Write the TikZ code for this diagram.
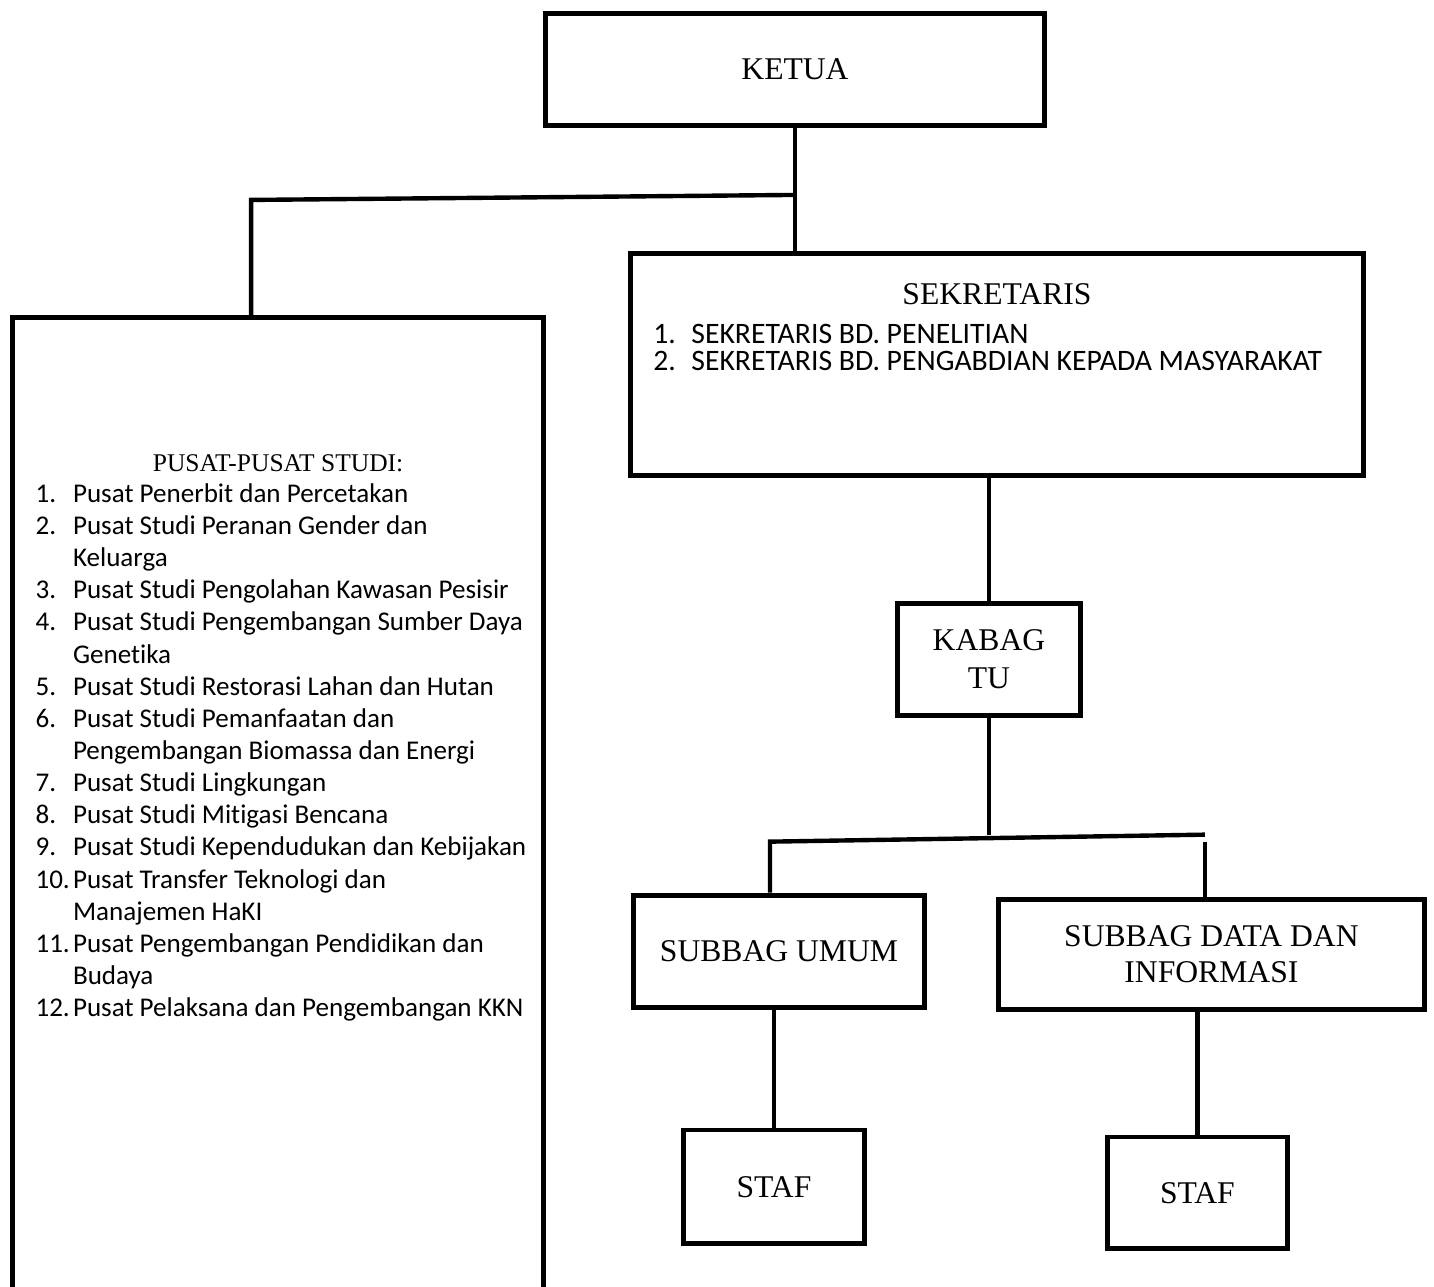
\documentclass[tikz,border=0pt]{standalone}
\usepackage{fontspec}
\setmainfont{Liberation Serif}
\newfontfamily\listfont[Ligatures={NoCommon}]{Carlito}
\usetikzlibrary{positioning,calc}
\tikzset{
    orgbox/.style={
        draw=black,
        fill=white,
        rectangle,
        line width=2.8pt,
        align=center,
        inner sep=0pt,
        font=\fontsize{18}{21.6}\selectfont
    },
    conn/.style={
        draw=black,
        line width=2.5pt
    },
    boxtitle/.style={
        inner sep=0pt,
        font=\fontsize{18}{21.6}\selectfont
    },
    listbody/.style={
        inner sep=0pt,
        anchor=north west
    }
}
\begin{document}
\begin{tikzpicture}[x=0.02cm, y=-0.02cm]
    \useasboundingbox (0,0) rectangle (1434,1287);
    \clip (0,0) rectangle (1434,1287);
    \fill[white] (0,0) rectangle (1434,1287);

    % Ketua at the top
    \node[orgbox, minimum width=9.98cm, minimum height=2.24cm] (ketua) at (795,69.5) {KETUA};

    % Pusat studi on the left, sekretaris on the right
    \node[orgbox, below=3.74cm of ketua, xshift=-10.34cm, minimum width=10.62cm, minimum height=20.2cm] (pusat) {};
    \node[orgbox, below=2.46cm of ketua, xshift=4.04cm, minimum width=14.66cm, minimum height=4.44cm] (sekretaris) {};

    \node[boxtitle, font=\fontsize{14.5}{17}\selectfont] (pusattitle) at ([yshift=-2.96cm]pusat.north) {PUSAT-PUSAT STUDI:};
    \node[listbody, font=\listfont\fontsize{15.4}{18.3}\selectfont] (pusatlist) at ([xshift=0.5cm, yshift=-3.29cm]pusat.north west) {%
        \begin{tabular}{@{}p{0.75cm}@{}l@{}}
        1. & Pusat Penerbit dan Percetakan\\
        2. & Pusat Studi Peranan Gender dan\\
           & Keluarga\\
        3. & Pusat Studi Pengolahan Kawasan Pesisir\\
        4. & Pusat Studi Pengembangan Sumber Daya\\
           & Genetika\\
        5. & Pusat Studi Restorasi Lahan dan Hutan\\
        6. & Pusat Studi Pemanfaatan dan\\
           & Pengembangan Biomassa dan Energi\\
        7. & Pusat Studi Lingkungan\\
        8. & Pusat Studi Mitigasi Bencana\\
        9. & Pusat Studi Kependudukan dan Kebijakan\\
        10. & Pusat Transfer Teknologi dan\\
            & Manajemen HaKI\\
        11. & Pusat Pengembangan Pendidikan dan\\
            & Budaya\\
        12. & Pusat Pelaksana dan Pengembangan KKN
        \end{tabular}};

    \node[boxtitle] (sektitle) at ([yshift=-0.86cm]sekretaris.north) {SEKRETARIS};
    \node[listbody, font=\listfont\fontsize{16.9}{15}\selectfont] (seklist) at ([xshift=0.5cm, yshift=-1.46cm]sekretaris.north west) {%
        \begin{tabular}{@{}p{0.76cm}@{}l@{}}
        1. & SEKRETARIS BD. PENELITIAN\\
        2. & SEKRETARIS BD. PENGABDIAN KEPADA MASYARAKAT
        \end{tabular}};

    % Tata usaha below the sekretaris
    \node[orgbox, below=2.46cm of sekretaris, xshift=-0.16cm, minimum width=3.66cm, minimum height=2.24cm] (kabag) {KABAG\\TU};
    \node[orgbox, below=3.5cm of kabag, xshift=-4.2cm, minimum width=5.82cm, minimum height=2.24cm] (subumum) {SUBBAG UMUM};
    \node[orgbox, below=3.58cm of kabag, xshift=4.45cm, minimum width=8.52cm, minimum height=2.2cm, font=\fontsize{18}{20.5}\selectfont] (subdata) {SUBBAG DATA DAN\\INFORMASI};
    \node[orgbox, below=2.36cm of subumum, xshift=-0.1cm, minimum width=3.62cm, minimum height=2.28cm] (stafumum) {STAF};
    \node[orgbox, below=2.46cm of subdata, xshift=-0.28cm, minimum width=3.6cm, minimum height=2.24cm] (stafdata) {STAF};

    % Lines
    \coordinate (split) at ([yshift=-1.34cm]ketua.south);
    \coordinate (pusattop) at ([xshift=-0.54cm]pusat.north);
    \draw[conn] (ketua.south) -- (ketua.south |- sekretaris.north);
    \draw[conn] (split) -- ($(split -| pusattop)+(0,5)$) -- (pusattop);
    \draw[conn] (sekretaris.south -| kabag.north) -- (kabag.north);

    \coordinate (fork) at ([yshift=-2.34cm]kabag.south);
    \coordinate (umumtop) at ([xshift=-0.18cm]subumum.north);
    \coordinate (datatop) at ([xshift=-0.13cm]subdata.north);
    \draw[conn] (kabag.south) -- (fork);
    \draw[conn] (umumtop) -- ($(fork -| umumtop)+(0,7)$) -- (fork -| datatop);
    \draw[conn] ($(fork -| datatop)+(0,7)$) -- (datatop);
    \draw[conn] (subumum.south -| stafumum.north) -- (stafumum.north);
    \draw[conn] (subdata.south -| stafdata.north) -- (stafdata.north);
\end{tikzpicture}
\end{document}
